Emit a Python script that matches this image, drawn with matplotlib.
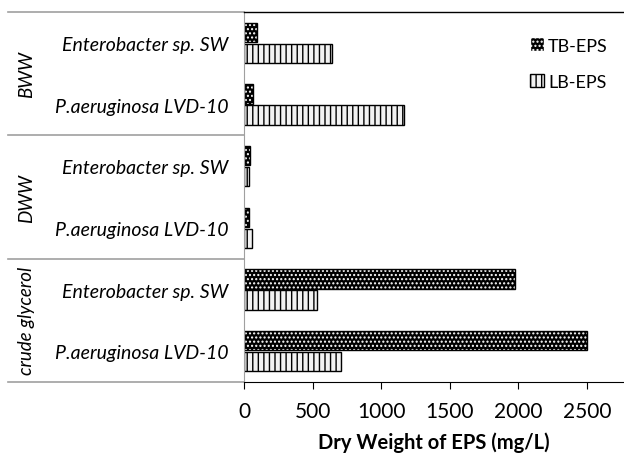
import matplotlib
matplotlib.use("Agg")
import matplotlib.pyplot as plt
import numpy as np
from matplotlib.patches import Patch

# data, top to bottom
groups = ["BWW", "DWW", "crude glycerol"]
strains = ["Enterobacter sp. SW", "P.aeruginosa LVD-10"]
tb_eps = [97, 63, 44, 37, 1975, 2500]
lb_eps = [641, 1166, 37, 60, 533, 707]

plt.rcParams["font.family"] = ["Lato", "DejaVu Sans"]
plt.rcParams["hatch.linewidth"] = 1.0

fig = plt.figure(figsize=(6.24, 4.56), dpi=100)
ax = fig.add_axes([0.391, 0.160, 0.609, 0.8115])

n = len(tb_eps)
y = np.arange(n)[::-1].astype(float)
h = 0.31
off = 0.17

# TB-EPS: black with white dots
ax.barh(y + off, tb_eps, height=h, color="black", edgecolor="white",
        hatch="....", linewidth=0)
ax.barh(y + off, tb_eps, height=h, fill=False, edgecolor="black", linewidth=1)
# LB-EPS: light with vertical lines
ax.barh(y - off, lb_eps, height=h, color="#f2f2f2", edgecolor="black",
        hatch="|||", linewidth=1)

ax.set_xlim(0, 2770)
ax.set_ylim(-0.5, n - 0.5)
ax.set_xticks([0, 500, 1000, 1500, 2000, 2500])
ax.tick_params(axis="x", labelsize=15, length=5, direction="out", pad=9)
ax.set_yticks(y)
ax.set_yticklabels([s for g in groups for s in strains], fontstyle="italic",
                   fontsize=14)
ax.tick_params(axis="y", length=0, pad=11)
ax.set_xlabel("Dry Weight of EPS (mg/L)", fontsize=14.5, fontweight="bold",
              labelpad=7)

ax.spines["left"].set_color("#a0a0a0")
ax.spines["right"].set_visible(False)
ax.spines["top"].set_linewidth(1)

# group separators and labels in the label area
trans = matplotlib.transforms.blended_transform_factory(ax.transAxes, ax.transData)
for yy in [n - 0.5, 3.5, 1.5, -0.5]:
    ax.plot([-0.621, 0], [yy, yy], color="#a0a0a0", linewidth=1.2,
            transform=trans, clip_on=False)
for i, g in enumerate(groups):
    yc = n - 1.5 - 2 * i
    ax.text(-0.573, yc, g, transform=trans, rotation=90, ha="center",
            va="center", fontstyle="italic", fontsize=13.5)

# legend
handles = [Patch(facecolor="black", edgecolor="white", hatch="...."),
           Patch(facecolor="#f2f2f2", edgecolor="black", hatch="|||")]
ax.legend(handles, ["TB-EPS", "LB-EPS"], loc="upper right",
          bbox_to_anchor=(1.0, 0.975), frameon=False, fontsize=13,
          handlelength=0.8, handleheight=0.8, handletextpad=0.2,
          labelspacing=1.1)

fig.savefig("out.png", dpi=100)
